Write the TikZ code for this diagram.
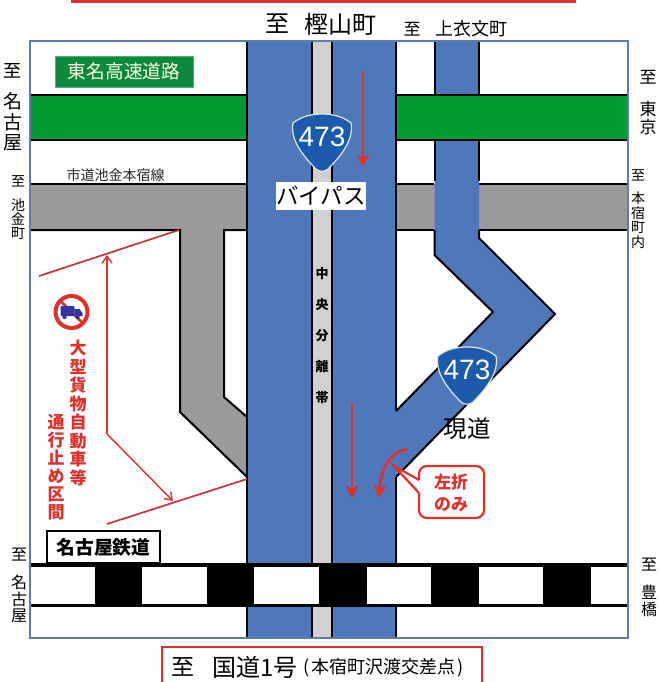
\documentclass[tikz,border=0pt]{standalone}
\usepackage{fontspec}
\setmainfont{Noto Sans CJK JP}
\newfontfamily\latinf{Liberation Sans}
\definecolor{roadblue}{HTML}{4F78BB}
\definecolor{shieldblue}{HTML}{1C5BAB}
\definecolor{hwgreen}{HTML}{049C31}
\definecolor{signgreen}{HTML}{0A8A3A}
\definecolor{roadgray}{HTML}{9A9A9A}
\definecolor{median}{HTML}{D0D0D0}
\definecolor{framec}{HTML}{5B7FA8}
\definecolor{redc}{HTML}{E0302A}
\definecolor{darkred}{HTML}{C8323A}
\newcommand{\fz}[2]{\fontsize{#1}{#2}\selectfont}
\newcommand{\shield}[3]{%
  \begin{scope}[shift={(#1,#2)}]
    \draw[fill=shieldblue,draw=white!85!shieldblue,line width=1.2pt]
      (-29,-20) .. controls (-20,-27) and (-10,-29) .. (0,-29)
      .. controls (10,-29) and (20,-27) .. (29,-20)
      .. controls (32,-4) and (20,12) .. (6,26)
      .. controls (3,29) and (-3,29) .. (-6,26)
      .. controls (-20,12) and (-32,-4) .. (-29,-20) -- cycle;
    \node[inner sep=0,text=white,font=\latinf\fz{28}{28}] (#3) at (0,-6) {473};
  \end{scope}}
\usetikzlibrary{arrows.meta}
\tikzset{
  x=1pt,y=-1pt,
  lbl/.style={inner sep=0,align=center,text=black},
  edge/.style={draw=black,line width=2pt,line cap=butt},
  redline/.style={draw=darkred,line width=1.7pt},
  redarrow/.style={draw=redc,line width=2.6pt,-{Stealth[length=13pt,width=13pt]}},
  thinarrow/.style={draw=redc,line width=1.4pt,-{Straight Barb[length=7pt,width=10pt]}},
}
\begin{document}
\begin{tikzpicture}
\useasboundingbox (0,0) rectangle (658,682);
\fill[white] (0,0) rectangle (658,682);
% banner line
\fill[redc] (71,0) rectangle (576,3);
% gray road
\fill[roadgray] (30,184) rectangle (628,230);
\fill[roadgray] (179,230) -- (224,230) -- (224,397) -- (247,417) -- (247,477) -- (179,412) -- cycle;
\draw[edge] (30,184) -- (247,184) (396,184) -- (434,184) (479,184) -- (628,184);
\draw[edge] (30,230) -- (180,230) -- (180,412) -- (247,477);
\draw[edge] (247,230) -- (224,230) -- (224,397) -- (247,417);
\draw[edge] (396,230) -- (434,230) (479,230) -- (628,230);
% small blue road
\fill[roadblue] (434.5,41) -- (479,41) -- (479,238) -- (555,314) -- (396,477) -- (396,411) -- (493,312) -- (434.5,255) -- cycle;
\draw[edge] (434.5,41) -- (434.5,95) (479,41) -- (479,95);
\draw[edge] (434.5,139) -- (434.5,181) (479,139) -- (479,181);
\draw[edge] (434.5,230) -- (434.5,255) -- (493,312) -- (396,411);
\draw[edge] (479,230) -- (479,238) -- (555,314) -- (396,477);
% green road
\fill[hwgreen] (30,95) rectangle (628,139.5);
\draw[edge] (30,95) -- (247,95) (396,95) -- (628,95);
\draw[edge] (30,139.5) -- (247,139.5) (396,139.5) -- (628,139.5);
% bypass
\fill[roadblue] (247,41) rectangle (396,638);
\fill[median] (312,41) rectangle (332,638);
\draw[edge] (247,41) -- (247,638) (312,41) -- (312,638) (332,41) -- (332,638) (396,41) -- (396,411) (396,477) -- (396,638);
% railway
\fill[black] (30,563) rectangle (628,607);
\foreach \a/\b in {30/95,142/207,254/319,367/431,479/543,591/628}{
  \fill[white] (\a,567) rectangle (\b,604);
}
% frame
\draw[framec,line width=1.8pt] (30,41) rectangle (628,638);
% title labels
\node[lbl,font=\fz{24}{24}] (t1) at (277,24) {至};
\node[lbl,font=\fz{24}{24}] (t2) at (340,24) {樫山町};
\node[lbl,font=\fz{17}{17}] (t3) at (412,29) {至};
\node[lbl,font=\fz{18}{18}] (t4) at (471,29) {上衣文町};
% sign
\node[fill=signgreen,draw=signgreen!70!white,line width=.5pt,minimum width=138,minimum height=31,inner sep=0,text=white!90!yellow,font=\fz{18.7}{18.7}] (sign) at (124,71.5) {東名高速道路};
\node[lbl,font=\fz{14}{14},text=black!85] (ich) at (115.5,175) {市道池金本宿線};
% side labels
\node[lbl,font=\fz{18}{18}] (l1) at (13,71) {至};
\node[lbl,font=\fz{19}{20.5}] (l2) at (13,122) {名\\古\\屋};
\node[lbl,font=\fz{14}{14}] (l3) at (18,181) {至};
\node[lbl,font=\fz{14}{14.3}] (l4) at (18,219) {池\\金\\町};
\node[lbl,font=\fz{16}{16}] (l5) at (19,555) {至};
\node[lbl,font=\fz{16}{16.5}] (l6) at (19,599) {名\\古\\屋};
\node[lbl,font=\fz{17}{17}] (r1) at (648,77) {至};
\node[lbl,font=\fz{17}{18.5}] (r2) at (648,118) {東\\京};
\node[lbl,font=\fz{14}{14}] (r3) at (638,175) {至};
\node[lbl,font=\fz{14}{14.5}] (r4) at (638,220) {本\\宿\\町\\内};
\node[lbl,font=\fz{16}{16}] (r5) at (649,565) {至};
\node[lbl,font=\fz{16}{17.5}] (r6) at (649,601) {豊\\橋};
% median text
\node[lbl,font=\bfseries\fz{13}{31}] (med) at (322,335.5) {中\\央\\分\\離\\帯};
% shields
\shield{322}{143}{s1}
\shield{467}{376}{s2}
\node[fill=white,inner sep=0,minimum width=90,minimum height=28,font=\fz{22.5}{22.5}] (byp) at (321,196) {バイパス};
\node[lbl,font=\fz{23.5}{23.5}] (gen) at (467,429) {現道};
% red arrows
\coordinate (a1s) at (363,71); \coordinate (a1e) at (363,167);
\coordinate (a2s) at (352,403); \coordinate (a2e) at (352,498);
\coordinate (a3s) at (407,449); \coordinate (a3e) at (379,498);
\draw[redarrow] (a1s) -- (a1e);
\draw[redarrow] (a2s) -- (a2e);
\draw[redarrow] (a3s) .. controls (392,452) and (381,465) .. (a3e);
% callout
\draw[draw=redc,line width=2.2pt,fill=white,rounded corners=8pt]
  (419,493) -- (419,518) -- (484,518) -- (484,466) -- (419,466) -- (419,480);
\draw[draw=redc,line width=2.2pt,fill=white] (419,480) -- (394,466) -- (419,493);
\fill[white] (420.5,481) rectangle (424,491.5);
\node[lbl,text=redc,font=\bfseries\fz{17}{22}] (call) at (451,492.5) {左折\\のみ};
% restriction
\draw[redline] (39,276) -- (179,230);
\draw[redline] (107,524) -- (247,479);
\coordinate (b1) at (107,434);
\coordinate (b2) at (107,255);
\coordinate (b3) at (173,501);
\draw[thinarrow] (b1) -- (b2);
\draw[thinarrow] (b1) -- (b3);
% no truck sign
\begin{scope}[shift={(71.5,312)}]
  \draw[redc,line width=4pt] (0,0) circle (16);
  \draw[redc,line width=2.5pt] (-11.5,-11.5) -- (11.5,11.5);
  \fill[blue!55!black!80!white,rounded corners=1pt] (-11,-6) rectangle (3,4);
  \fill[blue!55!black!80!white] (3,-3) -- (8,-3) -- (11,1) -- (11,4) -- (3,4) -- cycle;
  \fill[blue!55!black!80!white] (-7,5) circle (2.2) (6,5) circle (2.2);
\end{scope}
\node[lbl,text=redc,font=\bfseries\fz{17}{18.5}] (v1) at (78,413) {大\\型\\貨\\物\\自\\動\\車\\等};
\node[lbl,text=redc,font=\bfseries\fz{17}{18}] (v2) at (56,467) {通\\行\\止\\め\\区\\間};
% railway sign
\node[draw=black,line width=1.2pt,fill=white,minimum width=113,minimum height=32,inner sep=0,font=\bfseries\fz{18.7}{18.7}] (rail) at (103.5,547) {名古屋鉄道};
% bottom box
\draw[redc,line width=2.8pt,fill=white] (162,683) -- (162,647) -- (482,647) -- (482,683);
\node[lbl,font=\fz{23}{23}] (b4) at (183,667) {至};
\node[lbl,font=\fz{24}{24}] (b5) at (255,667) {国道1号};
\node[lbl,font=\fz{18}{18},anchor=west] (b6) at (303,668) {(\hspace{2pt}本宿町沢渡交差点\hspace{2pt})};
\end{tikzpicture}
\end{document}
